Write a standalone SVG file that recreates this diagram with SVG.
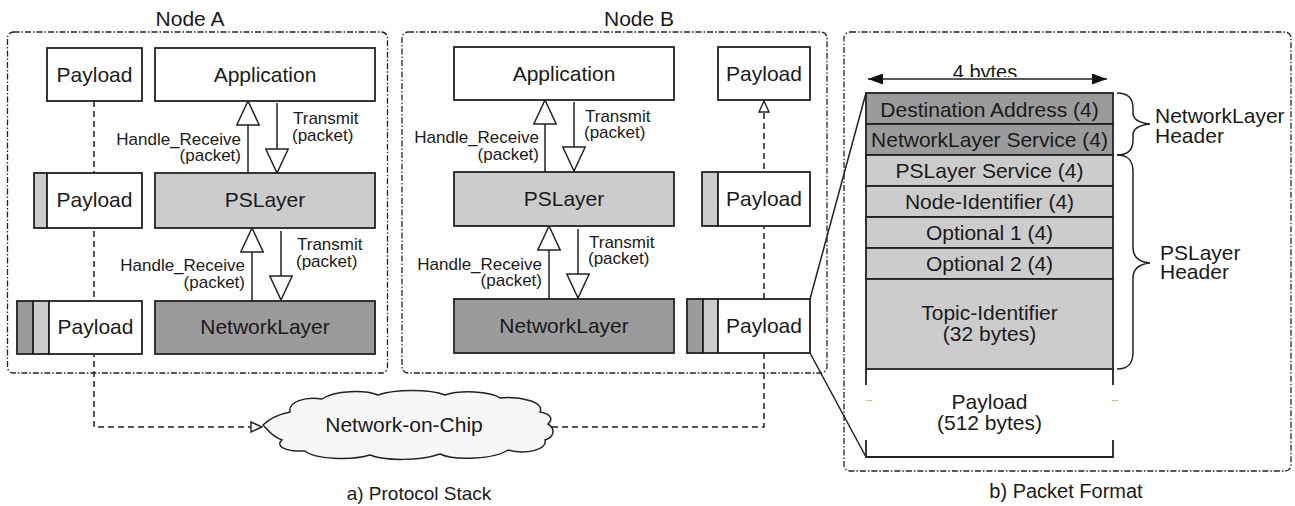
<svg xmlns="http://www.w3.org/2000/svg" width="1295" height="506" viewBox="0 0 1295 506">
  <style>
    text { font-family: "Liberation Sans", Arial, Helvetica, sans-serif; fill: #1a1a1a; }
    .big { font-size: 21px; }
    .mid { font-size: 20px; }
    .sm { font-size: 17px; }
    .c { text-anchor: middle; }
    .e { text-anchor: end; }
    .frame { fill: none; stroke: #222; stroke-width: 1.3; stroke-dasharray: 6 2 1.5 2; }
    .box { stroke: #222; stroke-width: 1.8; }
    .white { fill: #fff; }
    .light { fill: #cccccc; }
    .dark { fill: #9b9b9b; }
    .wire { fill: none; stroke: #222; stroke-width: 1.5; }
    .dash { fill: none; stroke: #222; stroke-width: 1.5; stroke-dasharray: 6 4; }
    .brace { fill: none; stroke: #222; stroke-width: 1.5; }
  </style>
  <defs>
    <marker id="hollow" markerUnits="userSpaceOnUse" viewBox="0 0 26 24" markerWidth="26" markerHeight="24" refX="25" refY="12" orient="auto">
      <path d="M1,0.8 L25,12 L1,23.2 Z" fill="#fff" stroke="#222" stroke-width="1.5" stroke-dasharray="none"/>
    </marker>
    <marker id="tiny" markerUnits="userSpaceOnUse" viewBox="0 0 13 12" markerWidth="13" markerHeight="12" refX="12" refY="6" orient="auto">
      <path d="M1,1 L12,6 L1,11 Z" fill="#fff" stroke="#222" stroke-width="1.4" stroke-dasharray="none"/>
    </marker>
    <marker id="solid" markerUnits="userSpaceOnUse" viewBox="0 0 15 11" markerWidth="15" markerHeight="11" refX="15" refY="5.5" orient="auto-start-reverse">
      <path d="M0,0 L15,5.5 L0,11 Z" fill="#111"/>
    </marker>
    <clipPath id="widthClip">
      <rect x="930" y="55" width="110" height="22"/>
    </clipPath>
  </defs>

  <!-- enclosing frames -->
  <g id="frames">
    <rect class="frame" x="7.5" y="32" width="380" height="341" rx="6"/>
    <rect class="frame" x="402" y="32" width="425" height="341" rx="6"/>
    <rect class="frame" x="844" y="32" width="447" height="439" rx="6"/>
    <text class="big c" x="190" y="26">Node A</text>
    <text class="big c" x="639" y="26">Node B</text>
    <text class="mid c" x="419" y="500" style="font-size:19px">a) Protocol Stack</text>
    <text class="mid c" x="1066" y="498">b) Packet Format</text>
  </g>

  <!-- connectors -->
  <g id="connectors">
    <!-- payload path through Node A into the NoC -->
    <path class="dash" d="M94,101 V427 H262" marker-end="url(#tiny)"/>
    <!-- NoC out to Node B, up to its payload -->
    <path class="dash" d="M552,427 H764 V101" marker-end="url(#tiny)"/>

    <!-- Node A calls -->
    <path class="wire" d="M248,173 V101" marker-end="url(#hollow)"/>
    <path class="wire" d="M277,103 V173" marker-end="url(#hollow)"/>
    <path class="wire" d="M252,301 V228" marker-end="url(#hollow)"/>
    <path class="wire" d="M281,231 V300" marker-end="url(#hollow)"/>

    <!-- Node B calls -->
    <path class="wire" d="M545,172 V100" marker-end="url(#hollow)"/>
    <path class="wire" d="M574,102 V171" marker-end="url(#hollow)"/>
    <path class="wire" d="M549,299 V226" marker-end="url(#hollow)"/>
    <path class="wire" d="M578,229 V298" marker-end="url(#hollow)"/>

    <!-- expansion lines to packet format -->
    <path class="wire" d="M810,299 L866,93"/>
    <path class="wire" d="M810,353 L866,457"/>

    <!-- width dimension -->
    <path class="wire" d="M868,79 H1107" marker-start="url(#solid)" marker-end="url(#solid)"/>
  </g>

  <!-- call labels -->
  <g id="call-labels" class="sm">
    <text class="sm e" x="241" y="145">Handle_Receive</text>
    <text class="sm e" x="241" y="161">(packet)</text>
    <text class="sm" x="293" y="124">Transmit</text>
    <text class="sm" x="292" y="141">(packet)</text>

    <text class="sm e" x="245" y="271">Handle_Receive</text>
    <text class="sm e" x="245" y="288">(packet)</text>
    <text class="sm" x="297" y="250">Transmit</text>
    <text class="sm" x="296" y="267">(packet)</text>

    <text class="sm e" x="539" y="143">Handle_Receive</text>
    <text class="sm e" x="539" y="160">(packet)</text>
    <text class="sm" x="585" y="122">Transmit</text>
    <text class="sm" x="584" y="138">(packet)</text>

    <text class="sm e" x="542" y="270">Handle_Receive</text>
    <text class="sm e" x="542" y="286">(packet)</text>
    <text class="sm" x="589" y="248">Transmit</text>
    <text class="sm" x="588" y="264">(packet)</text>
  </g>

  <!-- Node A -->
  <g id="nodeA-payload-app">
    <rect class="box white" x="47" y="48" width="95" height="53"/>
    <text class="big c" x="94.5" y="82">Payload</text>
  </g>
  <g id="nodeA-application">
    <rect class="box white" x="155" y="48" width="220" height="53"/>
    <text class="big c" x="265" y="82">Application</text>
  </g>
  <g id="nodeA-payload-ps">
    <rect class="box light" x="34" y="173" width="13" height="55"/>
    <rect class="box white" x="47" y="173" width="95" height="55"/>
    <text class="big c" x="94.5" y="207">Payload</text>
  </g>
  <g id="nodeA-pslayer">
    <rect class="box light" x="155" y="173" width="220" height="55"/>
    <text class="big c" x="265" y="207">PSLayer</text>
  </g>
  <g id="nodeA-payload-net">
    <rect class="box dark" x="17" y="301" width="16" height="53"/>
    <rect class="box light" x="33" y="301" width="16" height="53"/>
    <rect class="box white" x="49" y="301" width="93" height="53"/>
    <text class="big c" x="95.5" y="334">Payload</text>
  </g>
  <g id="nodeA-networklayer">
    <rect class="box dark" x="155" y="301" width="220" height="53"/>
    <text class="big c" x="265" y="334">NetworkLayer</text>
  </g>

  <!-- Node B -->
  <g id="nodeB-application">
    <rect class="box white" x="454" y="47" width="220" height="53"/>
    <text class="big c" x="564" y="81">Application</text>
  </g>
  <g id="nodeB-payload-app">
    <rect class="box white" x="718" y="47" width="92" height="53"/>
    <text class="big c" x="764" y="81">Payload</text>
  </g>
  <g id="nodeB-pslayer">
    <rect class="box light" x="454" y="172" width="220" height="54"/>
    <text class="big c" x="564" y="206">PSLayer</text>
  </g>
  <g id="nodeB-payload-ps">
    <rect class="box light" x="702" y="172" width="16" height="54"/>
    <rect class="box white" x="718" y="172" width="92" height="54"/>
    <text class="big c" x="764" y="206">Payload</text>
  </g>
  <g id="nodeB-networklayer">
    <rect class="box dark" x="454" y="299" width="220" height="54"/>
    <text class="big c" x="564" y="333">NetworkLayer</text>
  </g>
  <g id="nodeB-payload-net">
    <rect class="box dark" x="687" y="299" width="16" height="54"/>
    <rect class="box light" x="703" y="299" width="15" height="54"/>
    <rect class="box white" x="718" y="299" width="92" height="54"/>
    <text class="big c" x="764" y="333">Payload</text>
  </g>

  <!-- Network-on-Chip -->
  <g id="noc">
    <path d="M263,425 C270,418 280,414 290,412 C288,402 305,396 322,399 C335,390 365,390 378,395 C395,389 430,389 445,395 C460,390 490,391 500,398 C520,396 545,402 540,412 C552,414 553,420 548,424 C555,428 555,437 545,440 C548,450 525,455 508,450 C495,459 455,461 440,454 C420,461 385,461 370,455 C350,461 315,459 305,451 C285,452 275,446 282,440 C272,437 268,430 263,425 Z" fill="#f7f7f7" stroke="#222" stroke-width="1.5"/>
    <text class="big c" x="404" y="432">Network-on-Chip</text>
  </g>

  <!-- packet format -->
  <g id="packet-width">
    <text class="mid c" x="985" y="78.5" clip-path="url(#widthClip)">4 bytes</text>
  </g>
  <g id="field-destination">
    <rect class="box dark" x="866" y="93" width="247" height="31"/>
    <text class="big c" x="989.5" y="117">Destination Address (4)</text>
  </g>
  <g id="field-nl-service">
    <rect class="box dark" x="866" y="124" width="247" height="31"/>
    <text class="big c" x="989.5" y="147">NetworkLayer Service (4)</text>
  </g>
  <g id="field-ps-service">
    <rect class="box light" x="866" y="155" width="247" height="31"/>
    <text class="big c" x="989.5" y="178">PSLayer Service (4)</text>
  </g>
  <g id="field-node-id">
    <rect class="box light" x="866" y="186" width="247" height="31"/>
    <text class="big c" x="989.5" y="209">Node-Identifier (4)</text>
  </g>
  <g id="field-optional1">
    <rect class="box light" x="866" y="217" width="247" height="31"/>
    <text class="big c" x="989.5" y="240">Optional 1 (4)</text>
  </g>
  <g id="field-optional2">
    <rect class="box light" x="866" y="248" width="247" height="31"/>
    <text class="big c" x="989.5" y="271">Optional 2 (4)</text>
  </g>
  <g id="field-topic">
    <rect class="box light" x="866" y="279" width="247" height="90"/>
    <text class="big c" x="989.5" y="320">Topic-Identifier</text>
    <text class="big c" x="989.5" y="341">(32 bytes)</text>
  </g>
  <g id="field-payload">
    <path class="box" fill="none" d="M866,369 V385 M866,440 V457 H1113 V440 M1113,385 V369"/>
    <text class="c" x="869" y="401" style="font-size:8px">...</text>
    <text class="c" x="1115" y="401" style="font-size:8px">...</text>
    <text class="big c" x="989.5" y="409">Payload</text>
    <text class="big c" x="989.5" y="430">(512 bytes)</text>
  </g>

  <!-- header braces -->
  <g id="nl-header">
    <path class="brace" d="M1117,93 C1128,93 1133,98 1133,108 L1133,113 C1133,120 1140,123 1150,124 C1140,125 1133,128 1133,135 L1133,140 C1133,150 1128,155 1117,155"/>
    <text class="big" x="1155" y="123">NetworkLayer</text>
    <text class="big" x="1155" y="143">Header</text>
  </g>
  <g id="ps-header">
    <path class="brace" d="M1117,155 C1128,155 1133,160 1133,172 L1133,248 C1133,258 1140,262 1150,263 C1140,264 1133,268 1133,278 L1133,352 C1133,364 1128,369 1117,369"/>
    <text class="big" x="1160" y="260">PSLayer</text>
    <text class="big" x="1160" y="279">Header</text>
  </g>
</svg>
